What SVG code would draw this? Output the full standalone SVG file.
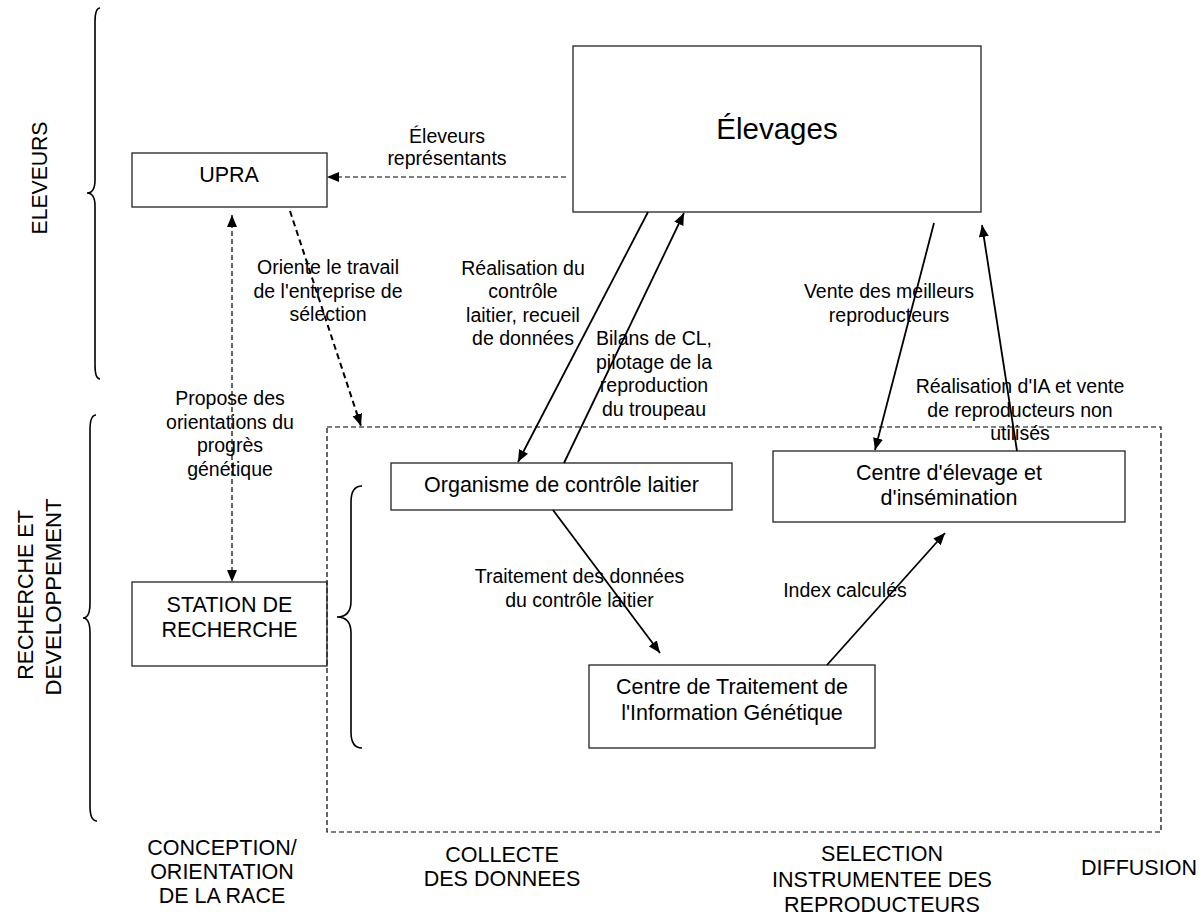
<svg xmlns="http://www.w3.org/2000/svg" width="1203" height="915" viewBox="0 0 1203 915">
<defs>
<style>
text{font-family:"Liberation Sans",Arial,sans-serif;fill:#000}
.node{font-size:21.5px;text-anchor:middle}
.lbl{font-size:19.5px;text-anchor:middle}
.box{fill:none;stroke:#222;stroke-width:1.3}
.solid{stroke:#000;stroke-width:1.8;fill:none}
.dash{stroke:#000;stroke-width:1.2;stroke-dasharray:5 3;fill:none}
.dash2{stroke:#000;stroke-width:2;stroke-dasharray:6 4;fill:none}
.brace{stroke:#000;stroke-width:1.6;fill:none}
.side{font-size:21.5px;text-anchor:middle}
</style>
<marker id="ah" viewBox="0 0 12 10" refX="12" refY="5" markerWidth="12" markerHeight="10" markerUnits="userSpaceOnUse" orient="auto">
<path d="M0,0 L12,5 L0,10 z" fill="#000"/>
</marker>
<marker id="ahs" viewBox="0 0 12 10" refX="0" refY="5" markerWidth="12" markerHeight="10" markerUnits="userSpaceOnUse" orient="auto">
<path d="M12,0 L0,5 L12,10 z" fill="#000"/>
</marker>
</defs>
<rect width="1203" height="915" fill="#fff"/>

<g id="braces">
<path class="brace" d="M100,8 Q95,8 95,22 L95,180 Q95,193 87,193 Q95,193 95,206 L95,365 Q95,379 100,379"/>
<path class="brace" d="M96,415 Q90,415 90,430 L90,603 Q90,618 83,618 Q90,618 90,633 L90,806 Q90,821 97,821"/>
<path class="brace" d="M362,486 Q351,486 351,502 L351,601 Q351,617 337,617 Q351,617 351,633 L351,732 Q351,748 362,748"/>
</g>

<g id="side-labels">
<text class="side" transform="translate(47,178) rotate(-90)" textLength="113" lengthAdjust="spacingAndGlyphs">ELEVEURS</text>
<text class="side" transform="translate(33,595) rotate(-90)">RECHERCHE ET</text>
<text class="side" transform="translate(61,597) rotate(-90)" textLength="197" lengthAdjust="spacingAndGlyphs">DEVELOPPEMENT</text>
</g>

<g id="zone">
<rect x="327" y="427" width="834" height="405" fill="none" stroke="#000" stroke-width="1.2" stroke-dasharray="5 3"/>
</g>

<g id="elevages">
<rect class="box" x="573" y="46" width="408" height="166"/>
<text x="777" y="139" font-size="29.5" text-anchor="middle">Élevages</text>
</g>
<g id="upra">
<rect class="box" x="132" y="153" width="195" height="54"/>
<text class="node" x="229" y="182">UPRA</text>
</g>
<g id="station">
<rect class="box" x="132" y="582" width="195" height="84"/>
<text class="node" x="229.5" y="612">STATION DE</text>
<text class="node" x="229.5" y="637">RECHERCHE</text>
</g>
<g id="organisme">
<rect class="box" x="391" y="463" width="341" height="47"/>
<text class="node" x="561.5" y="492">Organisme de contrôle laitier</text>
</g>
<g id="centre-elevage">
<rect class="box" x="773" y="451" width="352" height="71"/>
<text class="node" x="949" y="480">Centre d'élevage et</text>
<text class="node" x="949" y="505">d'insémination</text>
</g>
<g id="ctig">
<rect class="box" x="589" y="665" width="286" height="83"/>
<text class="node" x="732" y="694">Centre de Traitement de</text>
<text class="node" x="732" y="720">l'Information Génétique</text>
</g>

<g id="connectors">
<line class="dash" x1="566" y1="177" x2="327" y2="177" marker-end="url(#ah)"/>
<line class="dash2" x1="290" y1="211" x2="361" y2="426" marker-end="url(#ah)"/>
<line class="dash" x1="232" y1="215" x2="232" y2="582" marker-start="url(#ahs)" marker-end="url(#ah)"/>
<line class="solid" x1="648" y1="212" x2="518" y2="462" marker-end="url(#ah)"/>
<line class="solid" x1="564" y1="463" x2="684" y2="213" marker-end="url(#ah)"/>
<line class="solid" x1="934" y1="223" x2="875" y2="450" marker-end="url(#ah)"/>
<line class="solid" x1="1017" y1="451" x2="982" y2="225" marker-end="url(#ah)"/>
<line class="solid" x1="553" y1="510" x2="660" y2="653" marker-end="url(#ah)"/>
<line class="solid" x1="827" y1="665" x2="945" y2="533" marker-end="url(#ah)"/>
</g>

<g id="connector-labels">
<text class="lbl" x="447" y="143">Éleveurs</text>
<text class="lbl" x="447" y="165">représentants</text>
<text class="lbl" x="328" y="274">Oriente le travail</text>
<text class="lbl" x="328" y="298">de l'entreprise de</text>
<text class="lbl" x="328" y="321">sélection</text>
<text class="lbl" x="230" y="405">Propose des</text>
<text class="lbl" x="230" y="429">orientations du</text>
<text class="lbl" x="230" y="452">progrès</text>
<text class="lbl" x="230" y="476">génétique</text>
<text class="lbl" x="523" y="274.5">Réalisation du</text>
<text class="lbl" x="523" y="298">contrôle</text>
<text class="lbl" x="523" y="321.5">laitier, recueil</text>
<text class="lbl" x="523" y="345">de données</text>
<text class="lbl" x="654" y="345">Bilans de CL,</text>
<text class="lbl" x="654" y="368.5">pilotage de la</text>
<text class="lbl" x="654" y="392">reproduction</text>
<text class="lbl" x="654" y="415.5">du troupeau</text>
<text class="lbl" x="889" y="298">Vente des meilleurs</text>
<text class="lbl" x="889" y="322">reproducteurs</text>
<text class="lbl" x="1020" y="393">Réalisation d'IA et vente</text>
<text class="lbl" x="1020" y="417">de reproducteurs non</text>
<text class="lbl" x="1020" y="440">utilisés</text>
<text class="lbl" x="579.5" y="583">Traitement des données</text>
<text class="lbl" x="579.5" y="607">du contrôle laitier</text>
<text class="lbl" x="845" y="597">Index calculés</text>
</g>

<g id="column-labels">
<text class="side" x="222" y="855">CONCEPTION/</text>
<text class="side" x="222" y="879">ORIENTATION</text>
<text class="side" x="222" y="903">DE LA RACE</text>
<text class="side" x="502" y="862">COLLECTE</text>
<text class="side" x="502" y="886">DES DONNEES</text>
<text class="side" x="882" y="861">SELECTION</text>
<text class="side" x="882" y="887">INSTRUMENTEE DES</text>
<text class="side" x="882" y="912">REPRODUCTEURS</text>
<text class="side" x="1139" y="875">DIFFUSION</text>
</g>
</svg>
